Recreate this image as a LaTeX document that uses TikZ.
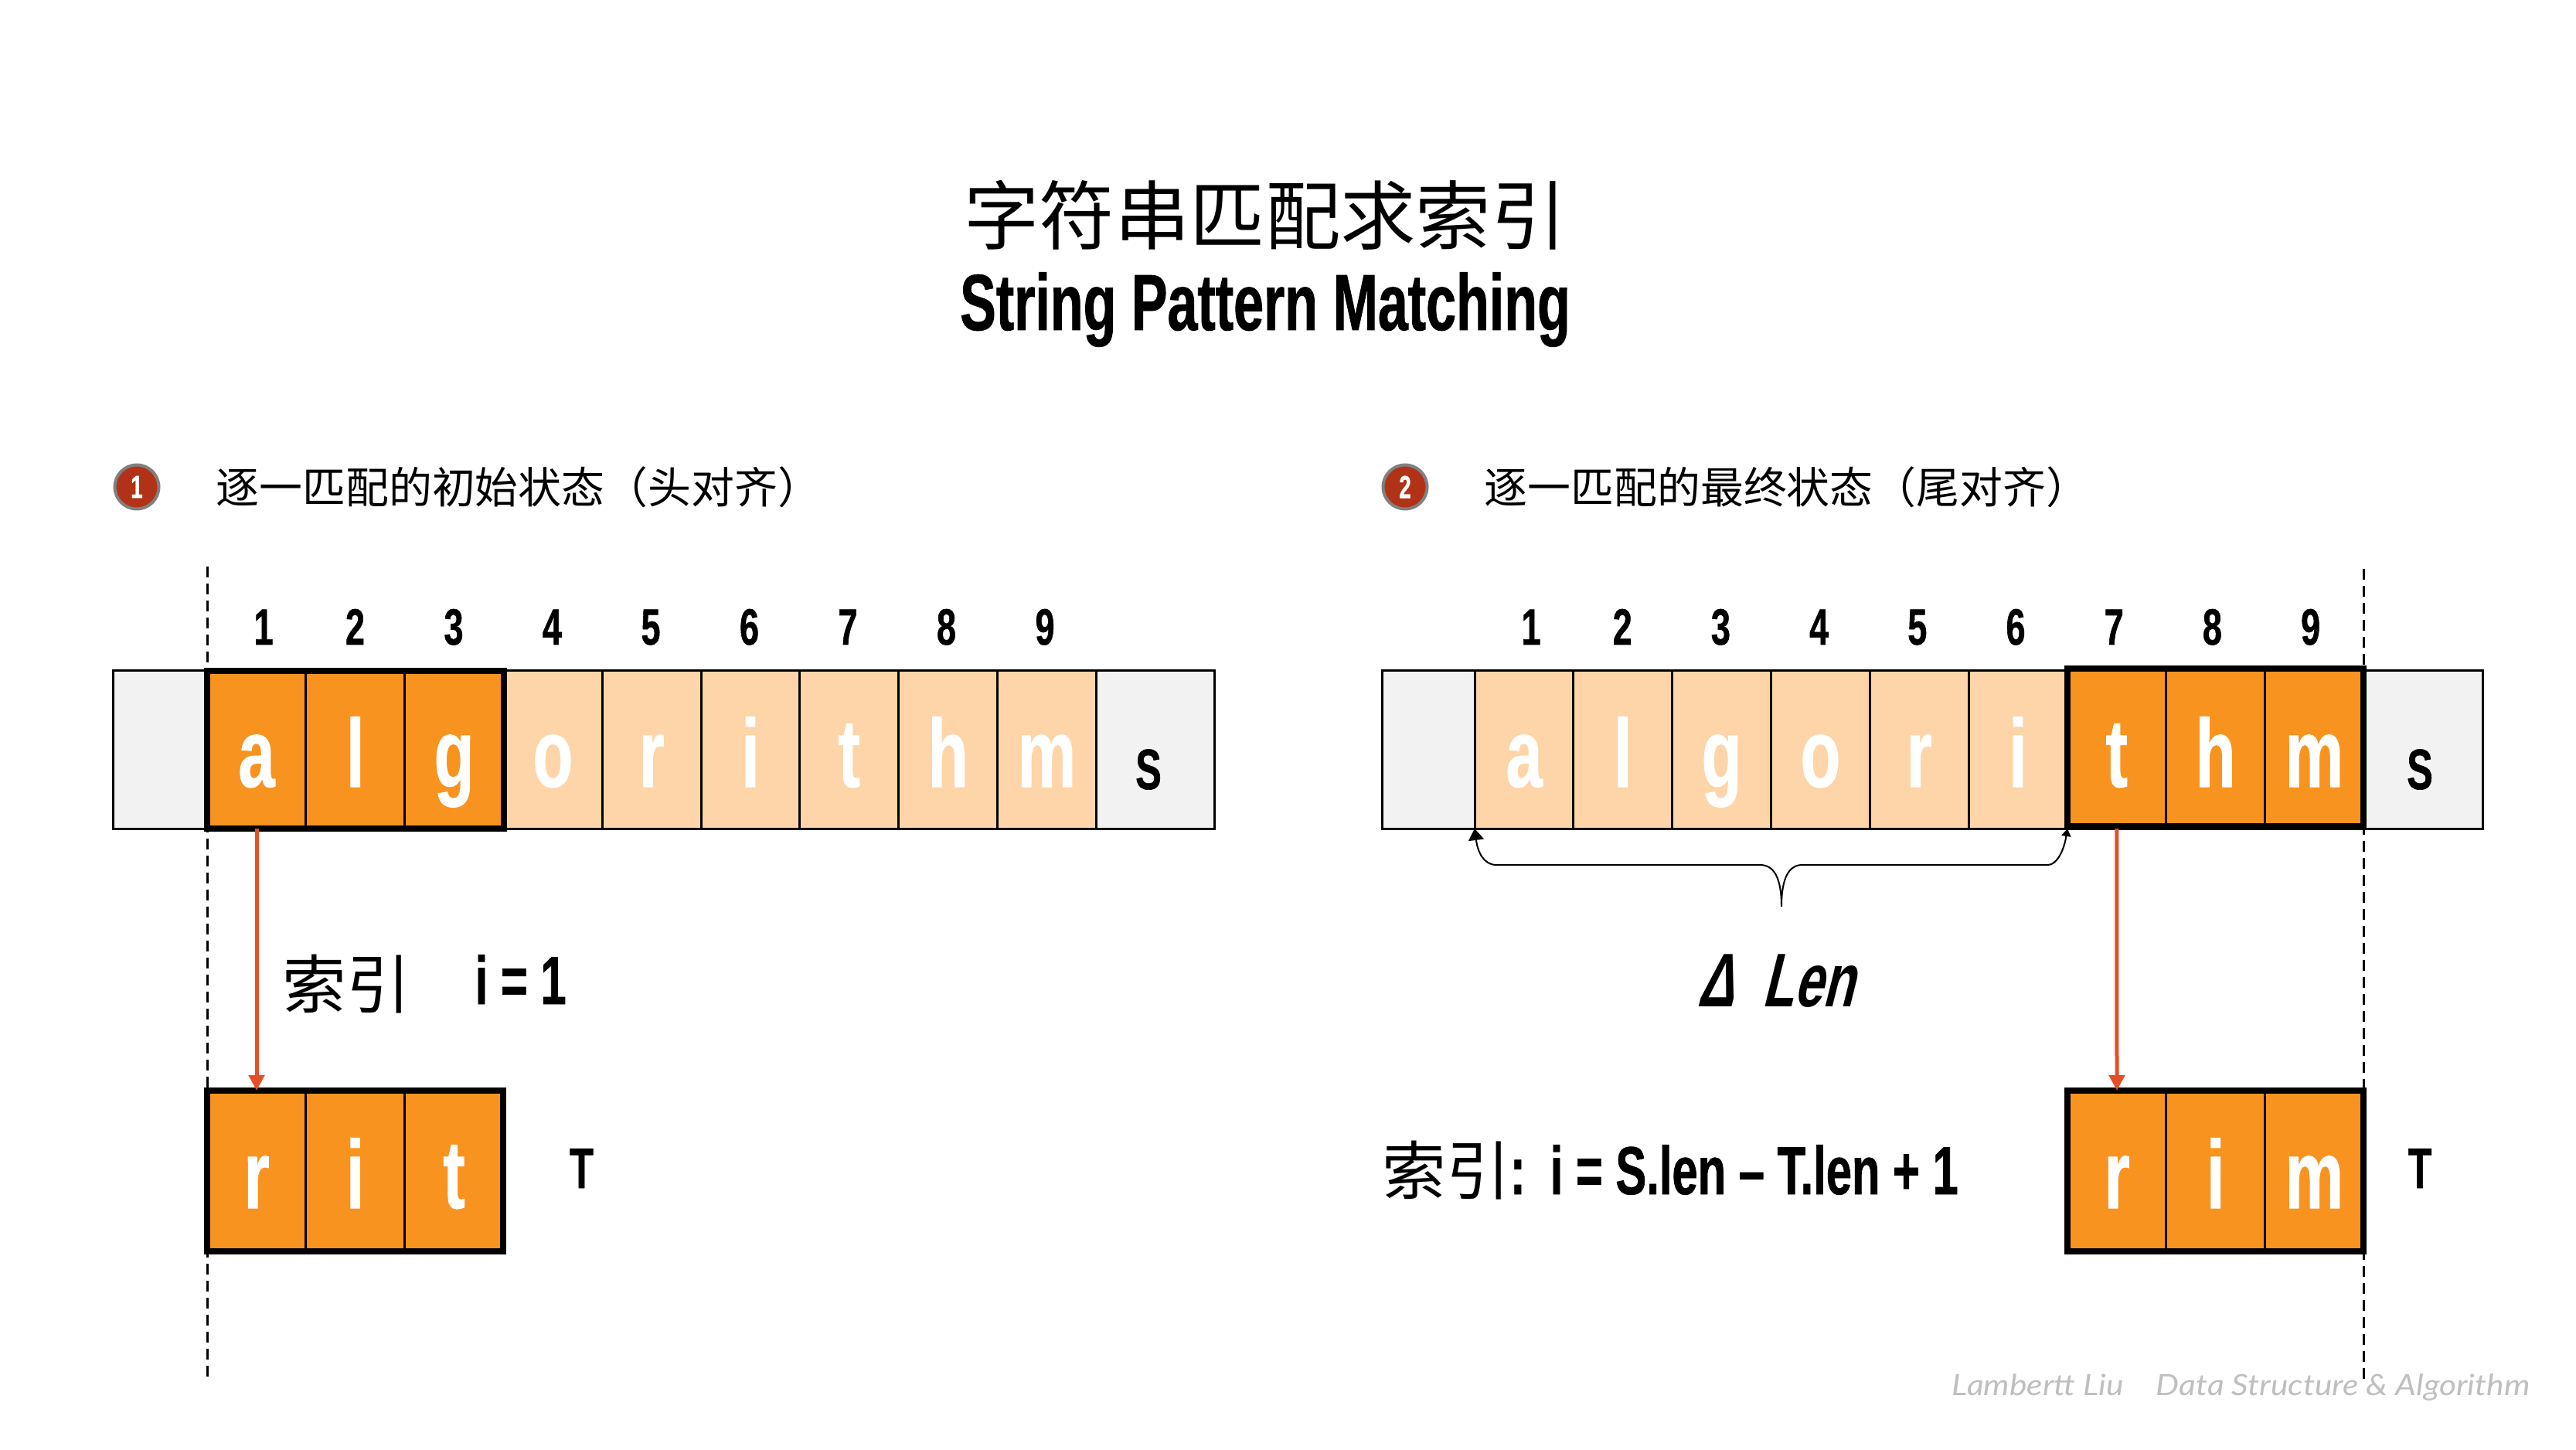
\documentclass[tikz,border=0pt]{standalone}
\usepackage{fontspec}
\usepackage{tikz}
\usetikzlibrary{arrows.meta}
\newfontfamily\cjkfont{Noto Sans CJK SC}
\newfontfamily\condfont[FakeStretch=0.68,FakeBold=0.8]{Liberation Sans}
\newfontfamily\slantfont[FakeStretch=0.68,FakeSlant=0.25]{Liberation Sans}
\newfontfamily\markfont[FakeStretch=1.12]{Lato}
\definecolor{hitfill}{HTML}{F8931F}
\definecolor{softfill}{HTML}{FDD5A8}
\definecolor{spare}{HTML}{F2F2F2}
\definecolor{pointred}{HTML}{E64F26}
\definecolor{badgered}{HTML}{B13216}
\newcommand{\cond}[1]{\condfont\bfseries\fontsize{#1}{#1}\selectfont}
\newcommand{\cjk}[1]{\cjkfont\mdseries\fontsize{#1}{#1}\selectfont}
\tikzset{
  cell/.style={draw=black, line width=0.03cm, fill=hitfill, text=white, minimum width=1.28cm, minimum height=2.04cm, inner sep=0pt, outer sep=0pt, text height=0.96cm, text depth=0pt, font=\cond{35.6}},
  softcell/.style={cell, fill=softfill},
  tallcell/.style={cell, minimum height=2.08cm},
  sparebox/.style={draw=black, line width=0.03cm, fill=spare, inner sep=0pt, outer sep=0pt},
  framebox/.style={draw=black, line width=0.08cm},
  guide/.style={draw=black, line width=0.03cm, dash pattern=on 0.14cm off 0.08cm},
  pointer/.style={draw=pointred, line width=0.05cm, -{Triangle[length=0.2cm,width=0.2cm]}},
  curly/.style={draw=black, line width=0.02cm, {Triangle[length=0.15cm,width=0.2cm]}-{Triangle[length=0.1cm,width=0.12cm]}},
  badge/.style={circle, draw=gray, line width=0.04cm, fill=badgered, text=white, minimum size=0.57cm, inner sep=0pt, font=\cond{11.7}},
  heading/.style={anchor=west, inner sep=0pt, font=\cjk{15.9}},
  seqno/.style={anchor=base, inner sep=0pt, font=\cond{18.8}},
  tag/.style={anchor=base, inner sep=0pt, font=\cond{21}},
  formula/.style={anchor=base west, inner sep=0pt, font=\cond{25}}
}
\begin{document}
\begin{tikzpicture}
  \useasboundingbox (0,0) rectangle (33.33,18.75);
  % Title
  \node[font=\cjk{27.7}, inner sep=0pt] (titlecn) at (16.37,15.97) {字符串匹配求索引};
  \node[anchor=base, inner sep=0pt, font=\cond{29.3}] (titleen) at (16.37,14.48) {String Pattern Matching};
  % Guides
  \coordinate (ltop) at (2.685,11.42);
  \coordinate (lbot) at (2.685,0.89);
  \coordinate (rtop) at (30.58,11.39);
  \coordinate (rbot) at (30.58,0.90);
  \draw[guide] (ltop) -- (lbot);
  \draw[guide] (rtop) -- (rbot);
  % Headings
  \node[badge] (badgea) at (1.77,12.45) {1};
  \node[badge] (badgeb) at (18.18,12.45) {2};
  \node[heading] (heada) at (2.79,12.45) {逐一匹配的初始状态（头对齐）};
  \node[heading] (headb) at (19.2,12.45) {逐一匹配的最终状态（尾对齐）};
  % Left string S
  \node[sparebox, minimum width=1.215cm, minimum height=2.04cm] (lspare) at (2.0725,9.05) {};
  \node[sparebox, minimum width=1.53cm, minimum height=2.04cm] (lend) at (14.945,9.05) {};
  \foreach \c [count=\n] in {a,l,g}
    \node[cell] (a\n) at ({3.32+1.278*(\n-1)},9.05) {\c};
  \foreach \c [count=\n from 4] in {o,r,i,t,h,m}
    \node[softcell] (a\n) at ({3.32+1.278*(\n-1)},9.05) {\c};
  \node[seqno] (na1) at (3.41,10.41) {1};
  \foreach \n in {2,...,9}
    \node[seqno] (na\n) at ({3.32+1.275*(\n-1)},10.41) {\n};
  \draw[framebox] (a1.north west) rectangle (a3.south east);
  \node[tag] (slabela) at (14.86,8.54) {S};
  % Right string S
  \node[sparebox, minimum width=1.2cm, minimum height=2.04cm] (rspare) at (18.48,9.05) {};
  \node[sparebox, minimum width=1.52cm, minimum height=2.04cm] (rend) at (31.36,9.05) {};
  \foreach \c [count=\n] in {a,l,g,o,r,i}
    \node[softcell] (m\n) at ({19.72+1.278*(\n-1)},9.05) {\c};
  \foreach \c [count=\n from 7] in {t,h,m}
    \node[cell] (m\n) at ({19.72+1.278*(\n-1)},9.05) {\c};
  \node[seqno] (nb1) at (19.81,10.41) {1};
  \foreach \n in {2,...,9}
    \node[seqno] (nb\n) at ({19.72+1.272*(\n-1)},10.41) {\n};
  \draw[framebox] ([yshift=0.03cm]m7.north west) rectangle ([yshift=0.03cm]m9.south east);
  \node[tag] (slabelb) at (31.31,8.54) {S};
  % Left pattern T
  \foreach \c [count=\n] in {r,i,t}
    \node[tallcell] (b\n) at ({3.32+1.277*(\n-1)},3.60) {\c};
  \draw[framebox] (b1.north west) rectangle (b3.south east);
  \node[tag] (tlabela) at (7.525,3.38) {T};
  % Right pattern T
  \foreach \c [count=\n] in {r,i,m}
    \node[tallcell] (c\n) at ({27.39+1.277*(\n-1)},3.60) {\c};
  \draw[framebox] (c1.north west) rectangle (c3.south east);
  \node[tag] (tlabelb) at (31.31,3.38) {T};
  % Pointers
  \draw[pointer] (a1.south) -- (b1.north);
  \draw[pointer] (m7.south) -- (c1.north);
  % Difference brace
  \draw[curly] (m1.south west) .. controls (19.12,7.72) and (19.2,7.56) .. (19.36,7.56) -- (22.77,7.56)
    .. controls (22.95,7.56) and (23.05,7.4) .. (23.05,7.02)
    .. controls (23.05,7.4) and (23.15,7.56) .. (23.32,7.56) -- (26.5,7.56)
    .. controls (26.6,7.56) and (26.7,7.72) .. (m6.south east);
  \node[anchor=base west, inner sep=0pt, font=\slantfont\bfseries\fontsize{28}{28}\selectfont] (deltalen) at (21.95,5.73) {Δ\hspace{0.36cm}Len};
  % Index formulas
  \node[inner sep=0pt, font=\cjk{23.5}] (idxa) at (4.48,6.02) {索引};
  \node[formula] (valuea) at (6.14,5.76) {i = 1};
  \node[formula] (idxb) at (17.88,3.30) {{\cjk{23.5}索引}:};
  \node[formula] (valueb) at (20.05,3.30) {i = S.len – T.len + 1};
  % Watermark
  \node[anchor=base west, inner sep=0pt, text=black!25, font=\markfont\itshape\fontsize{10.8}{10.8}\selectfont] (mark) at (25.25,0.70) {Lambertt Liu\hspace{0.42cm}Data Structure \& Algorithm};
\end{tikzpicture}
\end{document}
